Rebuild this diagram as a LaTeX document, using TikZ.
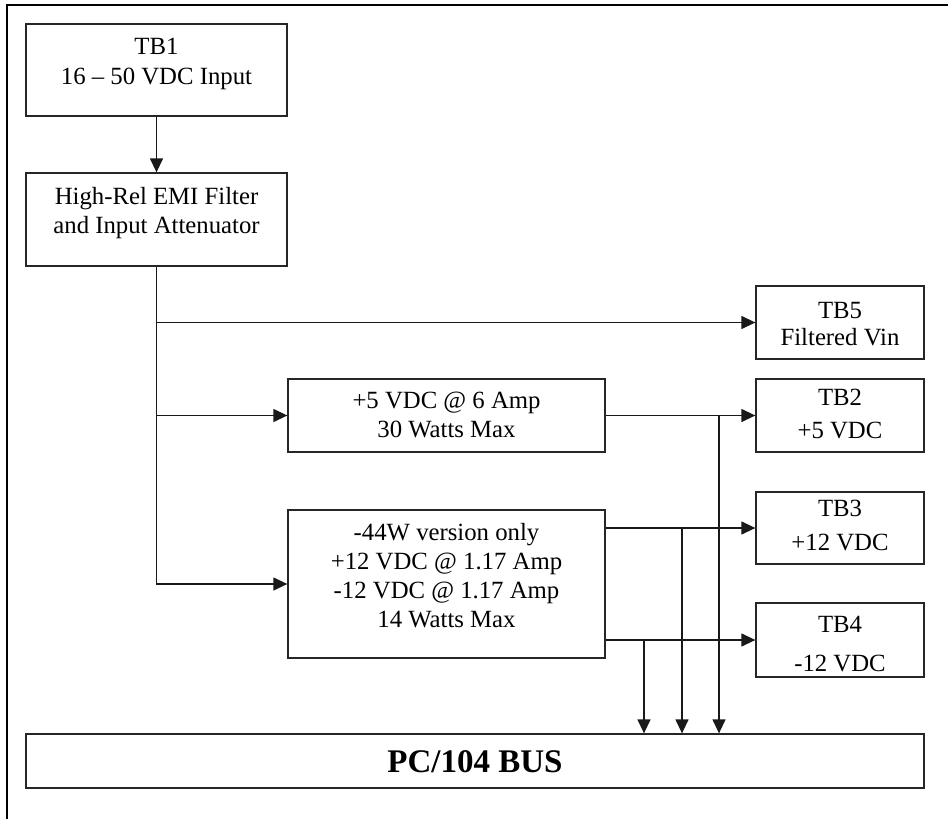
\documentclass[tikz,border=0pt]{standalone}
\usepackage{fontspec}
\setmainfont{Liberation Serif}
\usetikzlibrary{arrows.meta}
\begin{document}
\begin{tikzpicture}[x=1pt,y=-1pt,
  box/.style={draw=black!85,line width=1.3pt,inner sep=0pt,fill=white},
  txt/.style={anchor=north,align=center,inner sep=0pt},
  conn/.style={draw=black!90,line width=1.3pt,-{Triangle[length=14pt,width=13pt]}},
  wire/.style={draw=black!90,line width=1.3pt}]
\useasboundingbox (0,0) rectangle (948,819);
% outer frame
\draw[line width=1.6pt] (7,819) -- (7,5) -- (948,5);
% boxes
\node[box,minimum width=261pt,minimum height=92pt] (tb1) at (156.5,70) {};
\node[box,minimum width=261pt,minimum height=93pt] (filt) at (156.5,219.5) {};
\node[box,minimum width=168pt,minimum height=73pt] (tb5) at (840,322.5) {};
\node[box,minimum width=317pt,minimum height=73pt] (p5) at (446.5,415.5) {};
\node[box,minimum width=168pt,minimum height=73pt] (tb2) at (840,415.5) {};
\node[box,minimum width=168pt,minimum height=72pt] (tb3) at (840,528) {};
\node[box,minimum width=317pt,minimum height=148pt] (p12) at (446.5,584) {};
\node[box,minimum width=168pt,minimum height=74pt] (tb4) at (840,640) {};
\node[box,minimum width=898pt,minimum height=54pt] (bus) at (475,761) {};
% texts
\node[txt,font={\fontsize{24.75}{30}\selectfont}] (tb1t) at (156.5,38.2) {TB1\\16 – 50 VDC Input};
\node[txt,font={\fontsize{24.75}{29}\selectfont}] (filtt) at (156.5,187.2) {High-Rel EMI Filter\\and Input Attenuator};
\node[txt,font={\fontsize{24.75}{27}\selectfont}] (tb5t) at (840,302.2) {TB5\\Filtered Vin};
\node[txt,font={\fontsize{24.75}{29}\selectfont}] (p5t) at (446.5,392.2) {+5 VDC @ 6 Amp\\30 Watts Max};
\node[txt,font={\fontsize{24.75}{33}\selectfont}] (tb2t) at (840,389.2) {TB2\\+5 VDC};
\node[txt,font={\fontsize{24.75}{34}\selectfont}] (tb3t) at (840,500.2) {TB3\\+12 VDC};
\node[txt,font={\fontsize{24.75}{29}\selectfont}] (p12t) at (446.5,523.2) {-44W version only\\+12 VDC @ 1.17 Amp\\-12 VDC @ 1.17 Amp\\14 Watts Max};
\node[txt,font={\fontsize{24.75}{39}\selectfont}] (tb4t) at (840,616.2) {TB4\\-12 VDC};
\node[anchor=base,inner sep=0pt,font={\fontsize{33}{38}\selectfont\bfseries}] (bust) at (475,772) {PC/104 BUS};
% connectors
\draw[conn] (tb1.south) -- (filt.north);
\draw[conn] (filt.south) |- (p12.west);
\coordinate (b5) at (filt.south |- tb5.west);
\coordinate (b2) at (filt.south |- p5.west);
\draw[conn] (b5) -- (tb5.west);
\draw[conn] (b2) -- (p5.west);
\draw[conn] (p5.east) -- (tb2.west);
\coordinate (o3) at (p12.east |- tb3.west);
\coordinate (o4) at (p12.east |- tb4.west);
\draw[conn] (o3) -- (tb3.west);
\draw[conn] (o4) -- (tb4.west);
\coordinate (j1) at (719,415.5);
\coordinate (j2) at (682,528);
\coordinate (j3) at (644,640);
\draw[conn] (j1) -- (j1 |- bus.north);
\draw[conn] (j2) -- (j2 |- bus.north);
\draw[conn] (j3) -- (j3 |- bus.north);
\end{tikzpicture}
\end{document}
